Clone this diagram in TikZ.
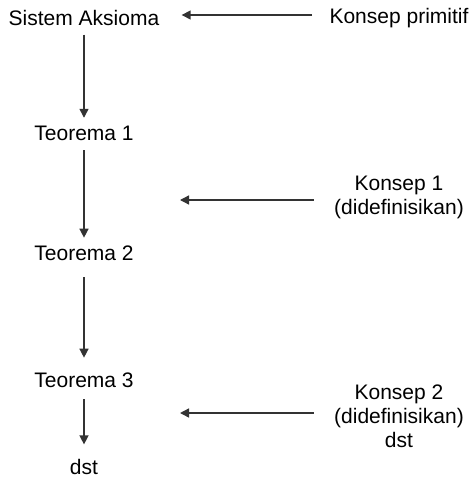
\documentclass[tikz,border=0pt]{standalone}
\usepackage{fontspec}
\setmainfont{Liberation Sans}
\usetikzlibrary{arrows.meta}
\tikzset{
  lbl/.style={font=\fontsize{10.5}{12}\selectfont, inner sep=0pt, align=center},
  arr/.style={-{Triangle[length=4.5pt,width=4.5pt]}, line width=0.7pt, draw=black!80}
}
\begin{document}
\begin{tikzpicture}[x=0.5pt,y=-0.5pt]
    \useasboundingbox (0,0) rectangle (471,486);
          \node[lbl] (sa) at (84,18) {Sistem Aksioma};
          \node[lbl] (kp) at (399,18) {Konsep primitif};
          \node[lbl] (t1) at (84,133) {Teorema 1};
          \node[lbl] (t2) at (84,253) {Teorema 2};
          \node[lbl] (t3) at (84,380) {Teorema 3};
          \node[lbl] (ds) at (84,467) {dst};
          \node[lbl] (k1) at (399,197) {Konsep 1\\(didefinisikan)};
          \node[lbl] (k2) at (399,416) {Konsep 2\\(didefinisikan)\\dst};
          \coordinate (a1) at (180,200);
          \coordinate (a2) at (180,413);
          % horizontal arrows
          \draw[arr, shorten <=8.5pt, shorten >=11pt] ([yshift=1.5pt]kp.west) -- ([yshift=1.5pt]sa.east);
          \draw[arr, shorten <=10pt] (k1.west |- a1) -- (a1);
          \draw[arr, shorten <=10pt] (k2.west |- a2) -- (a2);
          % vertical arrows
          \draw[arr, shorten <=4.25pt, shorten >=3.75pt] (sa.south) -- (t1.north);
          \draw[arr, shorten <=4.75pt, shorten >=3.75pt] (t1.south) -- (t2.north);
          \draw[arr, shorten <=8.25pt, shorten >=7.25pt] (t2.south) -- (t3.north);
          \draw[arr, shorten <=5.75pt, shorten >=7.25pt] (t3.south) -- (ds.north);
        \end{tikzpicture}
\end{document}
